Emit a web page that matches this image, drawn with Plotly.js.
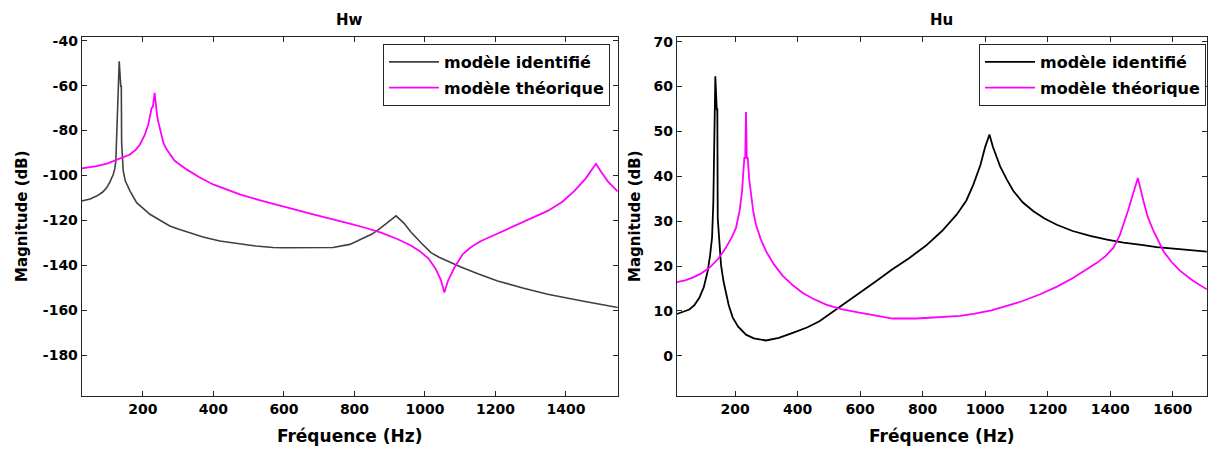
<!DOCTYPE html>
<html>
<head>
<meta charset="utf-8">
<script src="https://cdn.plot.ly/plotly-3.0.1.min.js"></script>
<style>html,body{margin:0;padding:0;background:#fff;}#chart{width:1210px;height:449px;}</style>
</head>
<body>
<div id="chart"></div>
<script>
// ---- Hw (left panel) ----
const hwIdentFreq = [26, 50, 68.5, 85, 96.9, 106, 115.6, 120, 123, 125, 126, 132.6, 137, 138.5, 139.5, 141, 144, 150, 163, 182, 200, 219.6, 240, 276, 300, 342.4, 370, 418, 450, 493.8, 520, 569, 600, 700, 739, 786.7, 828, 850, 875.5, 890, 918, 940, 960, 990, 1017, 1040, 1083.5, 1100, 1150, 1206, 1280, 1348, 1450, 1547];
const hwIdentMag  = [-111.4, -110.5, -109.2, -107.5, -105.5, -103, -99.6, -97, -93.6, -85, -81.8, -49.2, -60.3, -60.3, -85.5, -93, -98, -102.5, -106.9, -112.1, -114.7, -117.3, -119.2, -122.5, -123.9, -126.2, -127.4, -129.2, -130, -130.9, -131.4, -132.1, -132.2, -132.2, -132.1, -130.7, -127.7, -126.1, -123.2, -121.5, -118, -121.2, -125.2, -130.2, -134.4, -136.4, -139.6, -140.7, -143.8, -147, -150.2, -152.9, -156, -158.8];
const hwTheoFreq  = [26, 68.5, 100, 130, 163, 180, 191.3, 205, 215, 224.5, 228, 233, 236, 240, 243, 250, 258, 267, 290, 323.7, 360, 399, 440, 474.8, 530, 588, 640, 682.7, 740, 786.7, 830, 875.5, 923, 960, 984.3, 1010, 1030, 1045, 1055, 1065, 1083.5, 1107, 1130, 1159, 1200, 1253.6, 1300, 1348, 1390, 1424, 1455, 1485, 1500, 1518, 1547];
const hwTheoMag   = [-96.9, -95.8, -94.6, -92.8, -90.7, -88.5, -86.2, -82, -77.3, -70, -69.5, -63.2, -69, -73, -75.8, -80.5, -85.5, -88.4, -93.5, -97.3, -100.8, -104, -106.5, -108.4, -111, -113.6, -115.6, -117.3, -119.5, -121.5, -123.3, -125.5, -128.4, -131.2, -133.6, -137, -141.5, -146.5, -152.1, -147, -141, -135.1, -132, -129.2, -126.3, -122.5, -119.5, -115.8, -111.7, -106.9, -101.5, -94.8, -98.5, -102.5, -107.2];

// ---- Hu (right panel) ----
const huIdentFreq = [14, 40, 53.7, 70, 85.7, 100, 112.6, 120, 126.4, 130.5, 136.9, 141.5, 143.3, 144.6, 150, 155, 163, 171, 180, 192.6, 210, 235, 260, 299, 340, 384.6, 430, 470, 523, 580, 651, 700, 757.7, 810, 862, 909.4, 940, 962.6, 985, 1000, 1013.8, 1025, 1048, 1070, 1090.5, 1120, 1154.5, 1190, 1229.4, 1280, 1336, 1390, 1442.5, 1500, 1549, 1630, 1709];
const huIdentMag  = [9.3, 9.9, 10.3, 11.3, 12.9, 15.3, 18.9, 22.3, 26.3, 34.1, 62.3, 54.9, 54.9, 30.7, 24, 20.3, 16.6, 13.7, 11.2, 8.5, 6.5, 4.7, 3.9, 3.4, 4, 5.1, 6.3, 7.7, 10.3, 13, 16.6, 19.1, 21.8, 24.5, 27.8, 31.5, 34.6, 38.2, 42.5, 46.5, 49.3, 46.5, 42.2, 39.2, 36.7, 34.2, 32.2, 30.6, 29.2, 27.8, 26.7, 25.9, 25.2, 24.7, 24.2, 23.7, 23.2];
const huTheoFreq  = [14, 40, 64.6, 90, 117.7, 145, 171, 190, 203, 215, 222.4, 229.7, 232.5, 235, 237.5, 240.6, 245, 251, 258, 267, 282, 299, 325, 352.6, 385, 416.6, 450, 491, 540, 597.8, 650, 704.6, 780, 862, 920, 962.6, 1020, 1069, 1120, 1176, 1230, 1282.5, 1320, 1357.4, 1385, 1410.6, 1430, 1442.5, 1457, 1469.4, 1488.6, 1506.5, 1520, 1538.5, 1555, 1570.6, 1595, 1624, 1665, 1709];
const huTheoMag   = [16.4, 16.8, 17.4, 18.3, 19.6, 21.5, 24.1, 26.5, 28.5, 32.5, 36.7, 44.1, 44.1, 54.3, 44.1, 44.1, 39.5, 35.9, 32.3, 29.2, 26, 23.3, 20.3, 17.8, 15.7, 14, 12.7, 11.4, 10.4, 9.6, 8.9, 8.3, 8.3, 8.6, 8.9, 9.35, 10.1, 11.1, 12.2, 13.7, 15.4, 17.4, 19, 20.7, 22.2, 24.1, 26.7, 29.2, 32.3, 35.2, 39.6, 34.5, 31, 27.8, 25.3, 23.3, 21, 18.9, 16.7, 14.8];

const panelTitles = ['Hw', 'Hu'];
const seriesNames = ['modèle identifié', 'modèle théorique'];
const xTitle = 'Fréquence (Hz)';
const yTitle = 'Magnitude (dB)';
const hwXTicks = [200, 400, 600, 800, 1000, 1200, 1400];
const hwYTicks = [-180, -160, -140, -120, -100, -80, -60, -40];
const hwYTickText = ['-180', '-160', '-140', '-120', '-100', '-80', '-60', '-40'];
const huXTicks = [200, 400, 600, 800, 1000, 1200, 1400, 1600];
const huYTicks = [0, 10, 20, 30, 40, 50, 60, 70];

const FONT = 'DejaVu Sans, Liberation Sans, Arial, sans-serif';
const MAG = '#ff00ff';

const traces = [
  {x: hwIdentFreq, y: hwIdentMag, name: seriesNames[0], mode: 'lines', line: {color: '#404040', width: 1.6}, xaxis: 'x', yaxis: 'y', legend: 'legend', legendgroup: 'a'},
  {x: hwTheoFreq, y: hwTheoMag, name: seriesNames[1], mode: 'lines', line: {color: MAG, width: 1.8}, xaxis: 'x', yaxis: 'y', legend: 'legend', legendgroup: 'b'},
  {x: huIdentFreq, y: huIdentMag, name: seriesNames[0], mode: 'lines', line: {color: '#000000', width: 1.8}, xaxis: 'x2', yaxis: 'y2', legend: 'legend2', legendgroup: 'c'},
  {x: huTheoFreq, y: huTheoMag, name: seriesNames[1], mode: 'lines', line: {color: MAG, width: 1.8}, xaxis: 'x2', yaxis: 'y2', legend: 'legend2', legendgroup: 'd'}
];

function axis(common) {
  return Object.assign({
    showgrid: false, zeroline: false, showline: true, mirror: 'ticks',
    linecolor: '#262626', linewidth: 1, ticks: 'inside', ticklen: 5, tickwidth: 1, tickcolor: '#262626',
    tickfont: {family: FONT, size: 14, weight: 'bold', color: '#000'}
  }, common);
}

const legendCommon = {
  bgcolor: '#fff', bordercolor: '#262626', borderwidth: 1,
  font: {family: FONT, size: 16, weight: 'bold', color: '#000'},
  xanchor: 'right', yanchor: 'top', traceorder: 'grouped', tracegroupgap: 2, itemwidth: 50
};

const layout = {
  width: 1210, height: 449,
  margin: {l: 0, r: 0, t: 0, b: 0},
  paper_bgcolor: '#fff', plot_bgcolor: '#fff',
  showlegend: true,
  xaxis: axis({domain: [0.0675, 0.5105], range: [26.1, 1546.7], tickvals: hwXTicks, anchor: 'y',
    title: {text: xTitle, font: {family: FONT, size: 17, weight: 'bold', color: '#000'}, standoff: 14}}),
  yaxis: axis({domain: [0.1187, 0.9183], range: [-198.1, -38.2], tickvals: hwYTicks, ticktext: hwYTickText, anchor: 'x',
    title: {text: yTitle, font: {family: FONT, size: 15, weight: 'bold', color: '#000'}, standoff: 11}}),
  xaxis2: axis({domain: [0.5593, 0.9975], range: [13.5, 1709.7], tickvals: huXTicks, anchor: 'y2',
    title: {text: xTitle, font: {family: FONT, size: 17, weight: 'bold', color: '#000'}, standoff: 14}}),
  yaxis2: axis({domain: [0.1187, 0.9183], range: [-8.9, 71.1], tickvals: huYTicks, anchor: 'x2',
    title: {text: yTitle, font: {family: FONT, size: 15, weight: 'bold', color: '#000'}, standoff: 9}}),
  legend: Object.assign({x: 0.5041, y: 0.902}, legendCommon),
  legend2: Object.assign({x: 0.9967, y: 0.902}, legendCommon),
  annotations: [
    {text: panelTitles[0], xref: 'paper', yref: 'paper', x: (0.0675 + 0.5105) / 2, y: 1 - 20 / 449, xanchor: 'center', yanchor: 'middle', showarrow: false, font: {family: FONT, size: 15, weight: 'bold', color: '#000'}},
    {text: panelTitles[1], xref: 'paper', yref: 'paper', x: (0.5593 + 0.9975) / 2, y: 1 - 20 / 449, xanchor: 'center', yanchor: 'middle', showarrow: false, font: {family: FONT, size: 15, weight: 'bold', color: '#000'}}
  ]
};

Plotly.newPlot('chart', traces, layout, {staticPlot: true, displayModeBar: false});
</script>
</body>
</html>
